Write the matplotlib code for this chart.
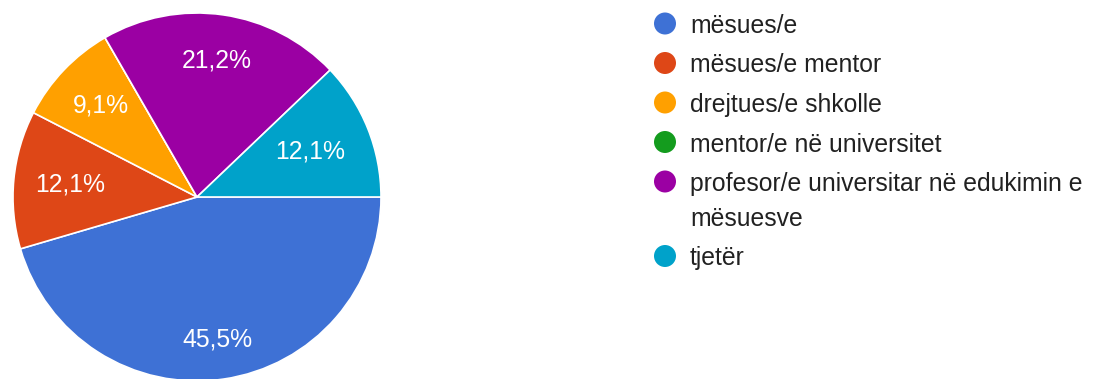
import matplotlib
matplotlib.use("Agg")
import matplotlib.pyplot as plt
import numpy as np

plt.rcParams['font.family'] = ['Liberation Sans', 'DejaVu Sans']

labels = ['mësues/e', 'mësues/e mentor', 'drejtues/e shkolle',
          'mentor/e në universitet',
          'profesor/e universitar në edukimin e\nmësuesve', 'tjetër']
values = [15, 4, 3, 0, 7, 4]
pct_text = ['45,5%', '12,1%', '9,1%', '', '21,2%', '12,1%']
colors = ['#3e71d5', '#de4717', '#ffa000', '#149c1e', '#9b00a3', '#00a2ca']
# radial position of the percentage text in each slice (fraction of radius)
label_dist = [0.78, 0.69, 0.72, 0.7, 0.75, 0.66]

W, H = 1098, 379
fig = plt.figure(figsize=(W / 100, H / 100), dpi=100)

# pie axes: centre (197, 197) px, radius 184 px
cx, cy, r = 197, 197, 184
ax = fig.add_axes([(cx - r) / W, (H - cy - r) / H, 2 * r / W, 2 * r / H])
wedges, _ = ax.pie(values, colors=colors, startangle=0, counterclock=False,
                   radius=1, wedgeprops=dict(edgecolor='white', linewidth=1.2))
ax.set_xlim(-1, 1)
ax.set_ylim(-1, 1)
ax.set_aspect('auto')
ax.axis('off')

for w, txt, d in zip(wedges, pct_text, label_dist):
    if not txt:
        continue
    ang = np.deg2rad((w.theta1 + w.theta2) / 2)
    ax.text(d * np.cos(ang), d * np.sin(ang), txt, ha='center', va='center',
            color='white', fontsize=17.8)

# legend drawn in pixel coordinates
lg = fig.add_axes([0, 0, 1, 1], zorder=-1)
lg.set_xlim(0, W)
lg.set_ylim(H, 0)
lg.axis('off')
y = 23.5
for lab, col in zip(labels, colors):
    lg.scatter([665], [y], s=(22 * 0.72) ** 2, color=col, edgecolors='none')
    lines = lab.split('\n')
    for i, line in enumerate(lines):
        lg.text(690, y + i * 35, line, ha='left', va='center_baseline',
                fontsize=17.8, color='#212121')
    y += 39.5 + (len(lines) - 1) * 35

fig.savefig('out.png', dpi=100)
